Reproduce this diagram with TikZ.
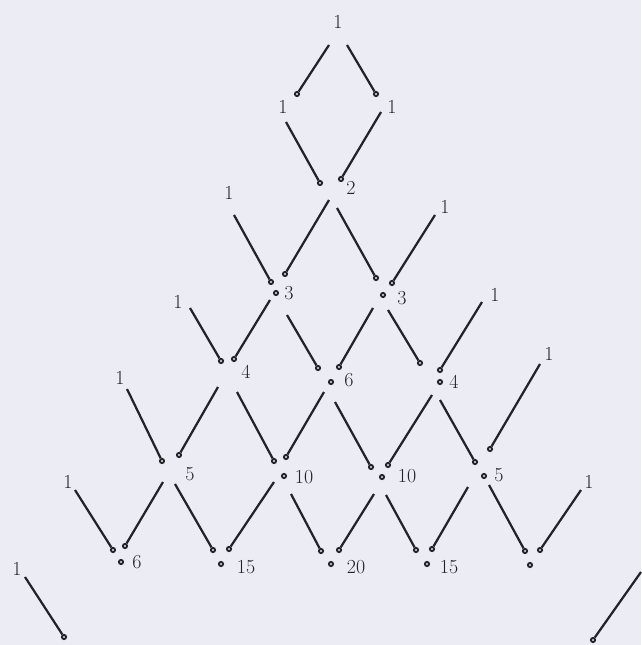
\documentclass[tikz,border=0pt]{standalone}
\definecolor{ink}{RGB}{34,34,40}
\definecolor{page}{RGB}{236,236,244}

\begin{document}
\begin{tikzpicture}[
  x=0.03cm, y=-0.03cm,
  num/.style={font=\fontsize{17}{20}\selectfont,text=ink,inner sep=0pt},
  tip/.style={circle,draw=ink,fill=page,line width=1.6pt,inner sep=0pt,minimum size=1.25mm},
  link/.style={draw=ink,line width=1.9pt}
]
\path[use as bounding box,fill=page] (0,0) rectangle (641,645);

% row 0
\node[num] (n00) at (338,22) {1};
\coordinate (dl00) at (329,45); \coordinate (dr00) at (347,45);

% row 1
\node[num] (n10) at (283,107) {1};
\node[num] (n11) at (392,107) {1};
\node[tip] (rt10) at (297,94) {};
\node[tip] (lf11) at (376,94) {};
\coordinate (dr10) at (286,122); \coordinate (dl11) at (381,112);
\draw[link] (dl00) -- (rt10);
\draw[link] (dr00) -- (lf11);

% row 2
\node[num] (n20) at (229,193) {1};
\node[num] (n21) at (351,188) {2};
\node[num] (n22) at (445,207) {1};
\node[tip] (lf21) at (320,183) {};
\node[tip] (rt21) at (341,179) {};
\coordinate (dr20) at (234,215);
\coordinate (dl21) at (329,200); \coordinate (dr21) at (337,208);
\coordinate (dl22) at (435,215);
\draw[link] (dr10) -- (lf21);
\draw[link] (dl11) -- (rt21);

% row 3
\node[num] (n30) at (178,302) {1};
\node[num] (n31) at (289,293) {3};
\node[num] (n32) at (402,298) {3};
\node[num] (n33) at (495,295) {1};
\node[tip] (lf31) at (271,282) {};
\node[tip] (rt31) at (285,274) {};
\node[tip] (dot31) at (276,293) {};
\node[tip] (lf32) at (376,278) {};
\node[tip] (rt32) at (392,283) {};
\node[tip] (dot32) at (383,295) {};
\coordinate (dr30) at (190,308);
\coordinate (dl31) at (270,300); \coordinate (dr31) at (287,315);
\coordinate (dl32) at (373,308); \coordinate (dr32) at (388,310);
\coordinate (dl33) at (482,302);
\draw[link] (dr20) -- (lf31);
\draw[link] (dl21) -- (rt31);
\draw[link] (dr21) -- (lf32);
\draw[link] (dl22) -- (rt32);

% row 4
\node[num] (n40) at (120,378) {1};
\node[num] (n41) at (246,372) {4};
\node[num] (n42) at (349,380) {6};
\node[num] (n43) at (454,382) {4};
\node[num] (n44) at (549,354) {1};
\node[tip] (lf41) at (221,361) {};
\node[tip] (rt41) at (234,359) {};
\node[tip] (lf42) at (318,368) {};
\node[tip] (rt42) at (339,367) {};
\node[tip] (dot42) at (331,382) {};
\node[tip] (lf43) at (420,363) {};
\node[tip] (rt43) at (440,370) {};
\node[tip] (dot43) at (440,382) {};
\coordinate (dr40) at (127,389);
\coordinate (dl41) at (218,387); \coordinate (dr41) at (237,392);
\coordinate (dl42) at (324,392); \coordinate (dr42) at (335,402);
\coordinate (dl43) at (432,395); \coordinate (dr43) at (440,400);
\coordinate (dl44) at (540,364);
\draw[link] (dr30) -- (lf41);
\draw[link] (dl31) -- (rt41);
\draw[link] (dr31) -- (lf42);
\draw[link] (dl32) -- (rt42);
\draw[link] (dr32) -- (lf43);
\draw[link] (dl33) -- (rt43);

% row 5
\node[num] (n50) at (68,482) {1};
\node[num] (n51) at (190,474) {5};
\node[num] (n52) at (304,477) {10};
\node[num] (n53) at (407,476) {10};
\node[num] (n54) at (499,475) {5};
\node[num] (n55) at (589,482) {1};
\node[tip] (lf51) at (162,461) {};
\node[tip] (rt51) at (179,455) {};
\node[tip] (lf52) at (274,461) {};
\node[tip] (rt52) at (286,457) {};
\node[tip] (dot52) at (284,476) {};
\node[tip] (lf53) at (371,467) {};
\node[tip] (rt53) at (388,465) {};
\node[tip] (dot53) at (382,477) {};
\node[tip] (lf54) at (475,462) {};
\node[tip] (rt54) at (490,449) {};
\node[tip] (dot54) at (484,476) {};
\coordinate (dr50) at (75,490);
\coordinate (dl51) at (163,482); \coordinate (dr51) at (175,484);
\coordinate (dl52) at (274,482); \coordinate (dr52) at (291,494);
\coordinate (dl53) at (374,494); \coordinate (dr53) at (386,495);
\coordinate (dl54) at (468,487); \coordinate (dr54) at (489,485);
\coordinate (dl55) at (581,490);
\draw[link] (dr40) -- (lf51);
\draw[link] (dl41) -- (rt51);
\draw[link] (dr41) -- (lf52);
\draw[link] (dl42) -- (rt52);
\draw[link] (dr42) -- (lf53);
\draw[link] (dl43) -- (rt53);
\draw[link] (dr43) -- (lf54);
\draw[link] (dl44) -- (rt54);

% row 6
\node[num] (n60) at (17,569) {1};
\node[num] (n61) at (137,562) {6};
\node[num] (n62) at (246,567) {15};
\node[num] (n63) at (356,567) {20};
\node[num] (n64) at (449,567) {15};
\node[tip] (lf61) at (113,550) {};
\node[tip] (rt61) at (125,546) {};
\node[tip] (dot61) at (121,562) {};
\node[tip] (lf62) at (213,550) {};
\node[tip] (rt62) at (229,549) {};
\node[tip] (dot62) at (221,564) {};
\node[tip] (lf63) at (321,551) {};
\node[tip] (rt63) at (339,550) {};
\node[tip] (dot63) at (331,564) {};
\node[tip] (lf64) at (416,550) {};
\node[tip] (rt64) at (432,549) {};
\node[tip] (dot64) at (427,564) {};
\node[tip] (lf65) at (525,551) {};
\node[tip] (rt65) at (540,550) {};
\node[tip] (dot65) at (530,565) {};
\coordinate (dr60) at (25,577);
\coordinate (dl66) at (641,572);
\draw[link] (dr50) -- (lf61);
\draw[link] (dl51) -- (rt61);
\draw[link] (dr51) -- (lf62);
\draw[link] (dl52) -- (rt62);
\draw[link] (dr52) -- (lf63);
\draw[link] (dl53) -- (rt63);
\draw[link] (dr53) -- (lf64);
\draw[link] (dl54) -- (rt64);
\draw[link] (dr54) -- (lf65);
\draw[link] (dl55) -- (rt65);

% row 7
\node[tip] (lf71) at (64,637) {};
\node[tip] (rt76) at (593,640) {};
\draw[link] (dr60) -- (lf71);
\draw[link] (dl66) -- (rt76);
\end{tikzpicture}
\end{document}
